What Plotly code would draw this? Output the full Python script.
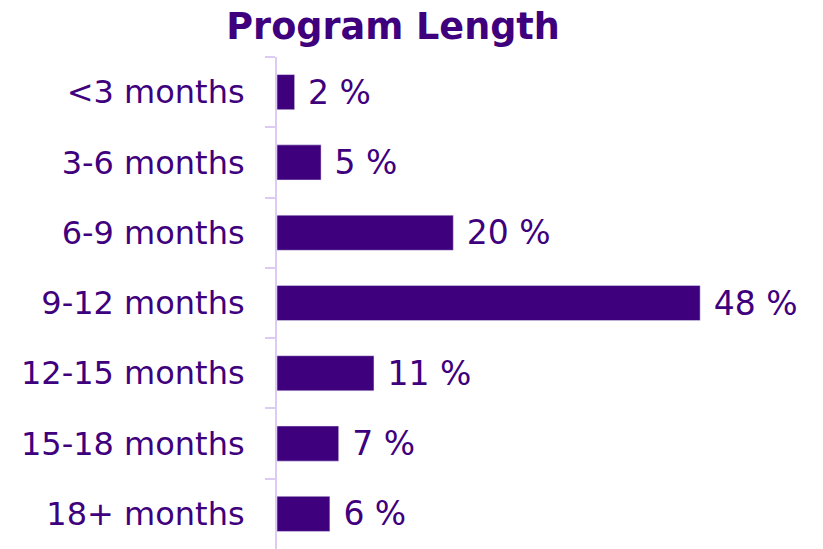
import plotly.graph_objects as go

categories = ["<3 months", "3-6 months", "6-9 months", "9-12 months",
              "12-15 months", "15-18 months", "18+ months"]
percent = [2, 5, 20, 48, 11, 7, 6]

purple = "#3f007d"
light = "#dccbf3"

bar = go.Bar(
    x=percent,
    y=categories,
    orientation="h",
    marker=dict(color=purple),
    text=[" %d %%" % v for v in percent],
    textposition="outside",
    constraintext="none",
    textfont=dict(family="DejaVu Sans", size=33, color=purple),
    cliponaxis=False,
)

# the page body has an 8px margin, so the figure is a bit smaller than the window
layout = go.Layout(
    width=815,
    height=541,
    margin=dict(l=269, r=10, t=49, b=0, autoexpand=False),
    paper_bgcolor="white",
    plot_bgcolor="white",
    bargap=0.5,
    showlegend=False,
    title=dict(text="<b>Program Length</b>", x=0.4725, xanchor="center",
               y=0.99, yanchor="top", yref="container", automargin=False,
               font=dict(family="DejaVu Sans", size=36.6, color=purple)),
    xaxis=dict(range=[0, 60.8], visible=False),
    yaxis=dict(autorange="reversed", showline=True, linecolor=light, linewidth=2,
               ticks="outside", ticklen=10, tickcolor=light, tickwidth=2,
               tickson="boundaries", ticklabelstandoff=24, automargin=False,
               tickfont=dict(family="DejaVu Sans", size=32, color=purple),
               showgrid=False, zeroline=False),
)

fig = go.Figure(data=[bar], layout=layout)
fig.write_html("out.html")
